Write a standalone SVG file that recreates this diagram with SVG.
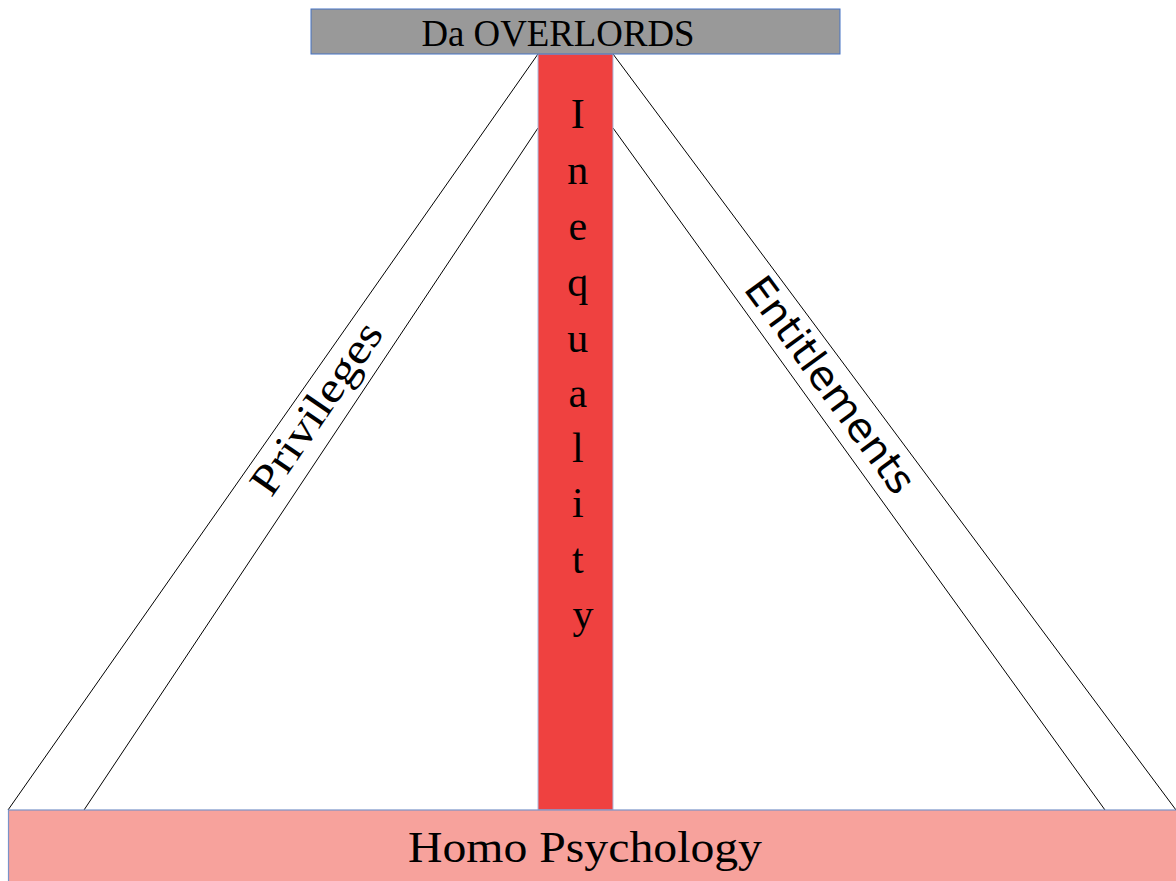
<svg xmlns="http://www.w3.org/2000/svg" width="1176" height="881" viewBox="0 0 1176 881">
<style>
.serif{font-family:"Liberation Serif","Times New Roman",serif;fill:#000}
.sans{font-family:"DejaVu Sans","Open Sans",sans-serif;fill:#000}
.edge{stroke:#000;stroke-width:1;fill:none}
</style>
<rect width="1176" height="881" fill="#fff"/>
<g id="connectors">
<line class="edge" x1="538" y1="54" x2="8" y2="810"/>
<line class="edge" x1="538" y1="128" x2="84" y2="810"/>
<line class="edge" x1="613" y1="54" x2="1176" y2="810"/>
<line class="edge" x1="613" y1="128" x2="1105" y2="810"/>
</g>
<g id="privileges">
<text class="serif" font-size="43" text-anchor="middle" textLength="200" lengthAdjust="spacingAndGlyphs" transform="translate(328,416) rotate(-55.5)">Privileges</text>
</g>
<g id="entitlements">
<text class="sans" font-size="40" text-anchor="middle" textLength="258" lengthAdjust="spacingAndGlyphs" transform="translate(819,393) rotate(53.8)">Entitlements</text>
</g>
<g id="inequality">
<rect x="538" y="54" width="75" height="756" fill="#EF4140" stroke="#A9BCE0" stroke-width="1"/>
<text class="serif" font-size="42" text-anchor="middle">
<tspan x="583" y="128">I</tspan>
<tspan x="583" y="184">n</tspan>
<tspan x="583" y="240">e</tspan>
<tspan x="583" y="296">q</tspan>
<tspan x="583" y="352">u</tspan>
<tspan x="583" y="407">a</tspan>
<tspan x="583" y="462">l</tspan>
<tspan x="583" y="517">i</tspan>
<tspan x="583" y="573">t</tspan>
<tspan x="583" y="628">y</tspan>
</text>
</g>
<g id="homo-psychology">
<rect x="8.5" y="810" width="1180" height="80" fill="#F7A29C" stroke="#7A93C8" stroke-width="1.2"/>
<text class="serif" font-size="44" x="585" y="862" text-anchor="middle" textLength="354" lengthAdjust="spacingAndGlyphs">Homo Psychology</text>
</g>
<g id="overlords">
<rect x="311" y="9" width="529" height="45" fill="#999999" stroke="#4472C4" stroke-width="1"/>
<text class="serif" font-size="37" x="558" y="46" text-anchor="middle" textLength="273" lengthAdjust="spacingAndGlyphs">Da OVERLORDS</text>
</g>
</svg>
